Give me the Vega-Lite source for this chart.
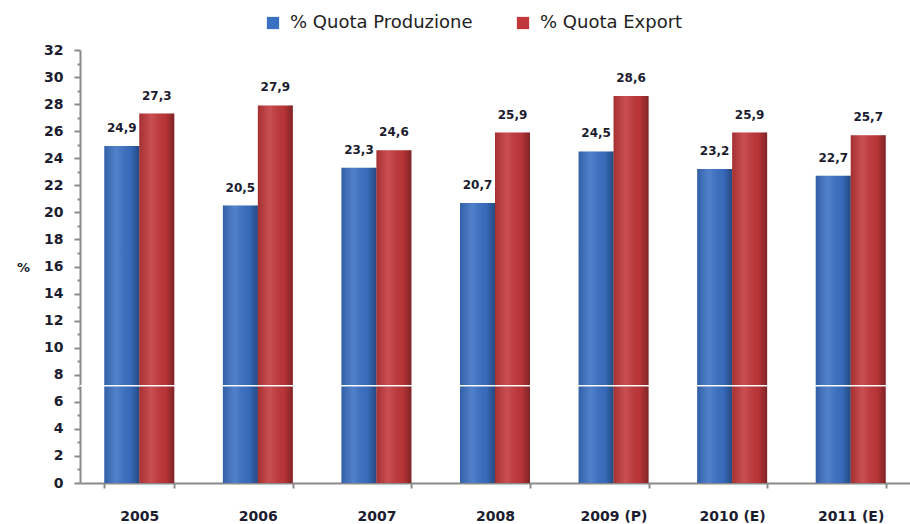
{
  "$schema": "https://vega.github.io/schema/vega-lite/v6.json",
  "width": 830,
  "height": 433,
  "autosize": {"type": "none"},
  "padding": {"left": 80, "top": 50, "right": 0, "bottom": 41},
  "background": "white",
  "data": {
    "values": [
      {"anno": "2005", "serie": "% Quota Produzione", "valore": 24.9},
      {"anno": "2005", "serie": "% Quota Export", "valore": 27.3},
      {"anno": "2006", "serie": "% Quota Produzione", "valore": 20.5},
      {"anno": "2006", "serie": "% Quota Export", "valore": 27.9},
      {"anno": "2007", "serie": "% Quota Produzione", "valore": 23.3},
      {"anno": "2007", "serie": "% Quota Export", "valore": 24.6},
      {"anno": "2008", "serie": "% Quota Produzione", "valore": 20.7},
      {"anno": "2008", "serie": "% Quota Export", "valore": 25.9},
      {"anno": "2009 (P)", "serie": "% Quota Produzione", "valore": 24.5},
      {"anno": "2009 (P)", "serie": "% Quota Export", "valore": 28.6},
      {"anno": "2010 (E)", "serie": "% Quota Produzione", "valore": 23.2},
      {"anno": "2010 (E)", "serie": "% Quota Export", "valore": 25.9},
      {"anno": "2011 (E)", "serie": "% Quota Produzione", "valore": 22.7},
      {"anno": "2011 (E)", "serie": "% Quota Export", "valore": 25.7}
    ]
  },
  "encoding": {
    "x": {
      "field": "anno",
      "type": "nominal",
      "sort": null,
      "scale": {"paddingInner": 0.41, "paddingOuter": 0.205},
      "axis": {
        "title": null,
        "labelAngle": 0,
        "labelFont": "DejaVu Sans",
        "labelFontWeight": "bold",
        "labelFontSize": 14,
        "labelColor": "#1c1c30",
        "labelPadding": 21,
        "tickBand": "extent",
        "tickSize": 5,
        "tickWidth": 2,
        "tickColor": "#8a8a8a",
        "domainColor": "#8a8a8a",
        "domainWidth": 2,
        "grid": false
      }
    },
    "xOffset": {"field": "serie", "sort": ["% Quota Produzione", "% Quota Export"]},
    "y": {
      "field": "valore",
      "type": "quantitative",
      "scale": {"domain": [0, 32], "nice": false},
      "axis": {
        "title": "%",
        "titleAngle": 0,
        "titleX": -57,
        "titleY": 217,
        "titleAlign": "center",
        "titleBaseline": "middle",
        "titleFont": "DejaVu Sans",
        "titleFontSize": 13,
        "titleFontWeight": "bold",
        "titleColor": "#1c1c30",
        "values": [0,1,2,3,4,5,6,7,8,9,10,11,12,13,14,15,16,17,18,19,20,21,22,23,24,25,26,27,28,29,30,31,32],
        "labelExpr": "datum.value % 2 ? '' : datum.label",
        "labelFont": "DejaVu Sans",
        "labelFontWeight": "bold",
        "labelFontSize": 14,
        "labelColor": "#1c1c30",
        "labelPadding": 11,
        "tickSize": {"condition": {"test": "datum.value % 2", "value": 3}, "value": 6},
        "tickWidth": 2,
        "tickColor": "#8a8a8a",
        "domainColor": "#8a8a8a",
        "domainWidth": 2,
        "grid": false
      }
    }
  },
  "layer": [
    {
      "mark": {"type": "bar"},
      "encoding": {
        "color": {
          "field": "serie",
          "type": "nominal",
          "scale": {
            "domain": ["% Quota Produzione", "% Quota Export"],
            "range": ["#3a70c4", "#c2373a"]
          },
          "legend": {
            "title": null,
            "orient": "none",
            "legendX": 184,
            "legendY": -36,
            "direction": "horizontal",
            "symbolType": "square",
            "symbolSize": 150,
            "symbolStrokeWidth": 0,
            "labelFont": "DejaVu Sans",
            "labelFontSize": 18,
            "labelColor": "#222222",
            "labelOffset": 8,
            "labelLimit": 300,
            "columnPadding": 41
          }
        }
      }
    },
    {
      "mark": {
        "type": "bar",
        "fill": {
          "gradient": "linear",
          "x1": 0, "y1": 0, "x2": 1, "y2": 0,
          "stops": [
            {"offset": 0, "color": "rgba(0,0,0,0.15)"},
            {"offset": 0.35, "color": "rgba(255,255,255,0.12)"},
            {"offset": 0.75, "color": "rgba(0,0,0,0.05)"},
            {"offset": 1, "color": "rgba(0,0,0,0.35)"}
          ]
        }
      }
    },
    {
      "mark": {
        "type": "text",
        "baseline": "middle",
        "dy": -18,
        "font": "DejaVu Sans",
        "fontWeight": "bold",
        "fontSize": 12,
        "color": "#1c1c30"
      },
      "encoding": {
        "text": {"field": "valore", "type": "quantitative", "format": ".1f"}
      }
    },
    {
      "mark": {"type": "rule", "color": "#ffffff", "strokeWidth": 1, "opacity": 0.75},
      "encoding": {
        "y": {"datum": 7.2, "type": "quantitative"},
        "x": {"value": 0},
        "x2": {"value": 810},
        "xOffset": null
      }
    }
  ],
  "config": {
    "locale": {
      "number": {"decimal": ",", "thousands": ".", "grouping": [3], "currency": ["", " €"]}
    },
    "view": {"stroke": null}
  }
}
